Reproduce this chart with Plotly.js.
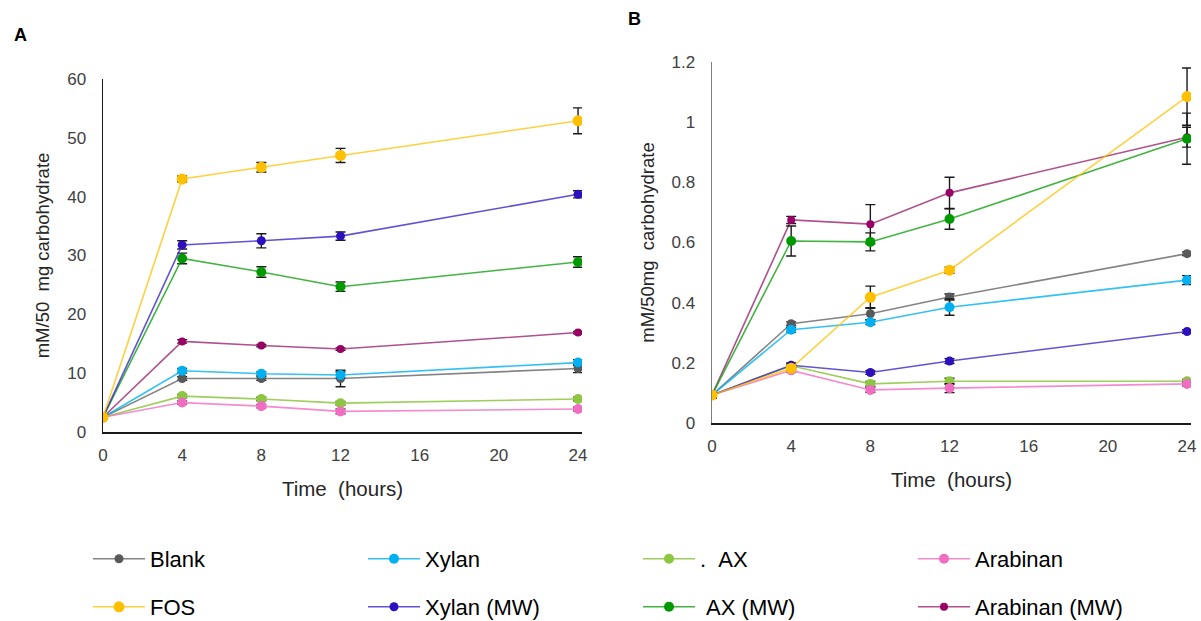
<!DOCTYPE html>
<html>
<head>
<meta charset="utf-8">
<script src="https://cdn.plot.ly/plotly-3.0.1.min.js"></script>
<style>
  html, body { margin: 0; padding: 0; background: #fff; }
  #chart { width: 1201px; height: 621px; }
</style>
</head>
<body>
<div id="chart"></div>
<script>
// Sampling times (hours)
const hours = [0, 4, 8, 12, 24];
const tickHours = [0, 4, 8, 12, 16, 20, 24];

// Series names as shown in the legend
const seriesNames = ['Blank', 'Xylan', '.\u00a0\u00a0AX', 'Arabinan', 'FOS', 'Xylan (MW)', '\u00a0AX (MW)', 'Arabinan (MW)'];

// Panel A values (mM/50 mg carbohydrate) and standard errors
const blankA      = [2.5, 9.1, 9.1, 9.1, 10.8];
const blankAErr   = [0.3, 0.3, 0.3, 1.4, 0.7];
const xylanA      = [2.5, 10.4, 9.9, 9.7, 11.8];
const xylanAErr   = [0.3, 0.4, 0.3, 0.5, 0.5];
const axA         = [2.5, 6.1, 5.6, 4.9, 5.6];
const axAErr      = [0.3, 0.3, 0.3, 0.3, 0.3];
const arabinanA   = [2.5, 5.0, 4.4, 3.5, 3.9];
const arabinanAErr= [0.3, 0.3, 0.3, 0.4, 0.3];
const fosA        = [2.5, 43.0, 45.0, 47.0, 52.9];
const fosAErr     = [0.3, 0.5, 0.8, 1.2, 2.2];
const xylanMwA    = [2.5, 31.8, 32.5, 33.3, 40.4];
const xylanMwAErr = [0.3, 0.7, 1.2, 0.7, 0.6];
const axMwA       = [2.5, 29.5, 27.2, 24.7, 28.9];
const axMwAErr    = [0.3, 0.9, 0.9, 0.8, 0.9];
const arabMwA     = [2.5, 15.4, 14.7, 14.1, 16.9];
const arabMwAErr  = [0.3, 0.3, 0.2, 0.2, 0.2];

// Panel B values (mM/50mg carbohydrate) and standard errors
const blankB      = [0.093, 0.330, 0.363, 0.419, 0.563];
const blankBErr   = [0.008, 0.006, 0.02, 0.01, 0.006];
const xylanB      = [0.093, 0.310, 0.335, 0.385, 0.475];
const xylanBErr   = [0.008, 0.008, 0.008, 0.027, 0.015];
const axB         = [0.093, 0.190, 0.130, 0.139, 0.139];
const axBErr      = [0.008, 0.006, 0.008, 0.01, 0.006];
const arabinanB   = [0.093, 0.175, 0.110, 0.116, 0.130];
const arabinanBErr= [0.008, 0.006, 0.008, 0.015, 0.006];
const fosB        = [0.093, 0.182, 0.418, 0.508, 1.085];
const fosBErr     = [0.008, 0.006, 0.037, 0.01, 0.095];
const xylanMwB    = [0.093, 0.192, 0.168, 0.206, 0.304];
const xylanMwBErr = [0.008, 0.008, 0.006, 0.008, 0.006];
const axMwB       = [0.093, 0.605, 0.602, 0.678, 0.945];
const axMwBErr    = [0.008, 0.05, 0.03, 0.034, 0.085];
const arabMwB     = [0.093, 0.675, 0.661, 0.765, 0.950];
const arabMwBErr  = [0.008, 0.012, 0.065, 0.052, 0.033];

// Styling per series: marker colour, line colour, marker size
const styles = [
  { m: '#595959', l: 'rgba(110,110,110,0.85)', s: 9 },
  { m: '#00b0f0', l: 'rgba(0,176,240,0.8)',    s: 10 },
  { m: '#8dc63f', l: 'rgba(141,198,63,0.85)',  s: 10 },
  { m: '#f06ec2', l: 'rgba(240,110,194,0.8)',  s: 10 },
  { m: '#ffc000', l: 'rgba(255,192,0,0.75)',   s: 11 },
  { m: '#2e0fbf', l: 'rgba(60,40,200,0.8)',    s: 9 },
  { m: '#009a00', l: 'rgba(20,160,20,0.8)',    s: 10 },
  { m: '#990066', l: 'rgba(160,50,120,0.85)',  s: 8 }
];

const dataA = [blankA, xylanA, axA, arabinanA, fosA, xylanMwA, axMwA, arabMwA];
const errA  = [blankAErr, xylanAErr, axAErr, arabinanAErr, fosAErr, xylanMwAErr, axMwAErr, arabMwAErr];
const dataB = [blankB, xylanB, axB, arabinanB, fosB, xylanMwB, axMwB, arabMwB];
const errB  = [blankBErr, xylanBErr, axBErr, arabinanBErr, fosBErr, xylanMwBErr, axMwBErr, arabMwBErr];

// Draw order so that the upper series sit on top
const order = [0, 1, 2, 3, 7, 6, 5, 4];

const traces = [];
function addTraces(vals, errs, xa, ya, showLegend) {
  order.forEach(i => {
    traces.push({
      type: 'scatter', mode: 'lines+markers',
      x: hours, y: vals[i],
      name: seriesNames[i],
      xaxis: xa, yaxis: ya,
      showlegend: showLegend,
      legend: i < 4 ? 'legend' : 'legend2',
      legendrank: i,
      line: { color: styles[i].l, width: 1.6 },
      marker: { color: styles[i].m, size: styles[i].s },
      error_y: { type: 'data', array: errs[i], visible: true, color: '#1a1a1a', thickness: 1.4, width: 5 }
    });
  });
}
addTraces(dataA, errA, 'x', 'y', true);
addTraces(dataB, errB, 'x2', 'y2', false);

const FONT = 'Liberation Sans, Arial, sans-serif';
const tickFont = { family: FONT, size: 17, color: '#404040' };

function xAxis(domain, anchor) {
  return {
    domain: domain, anchor: anchor, range: [0, 24.2],
    tickvals: tickHours, ticktext: tickHours.map(String),
    showgrid: false, zeroline: false, showline: true, linecolor: '#1a1a1a', linewidth: 1.5,
    ticks: '', tickfont: tickFont, ticklabelstandoff: 7,
    title: { text: 'Time\u00a0\u00a0(hours)', font: { family: FONT, size: 20.5, color: '#262626' }, standoff: 17 }
  };
}
function yAxis(domain, anchor, range, dtick, title, lineColor) {
  return {
    domain: domain, anchor: anchor, range: range, dtick: dtick, tick0: 0,
    showgrid: false, zeroline: false, showline: true, linecolor: lineColor, linewidth: 1.5,
    ticks: '', tickfont: tickFont, ticklabelstandoff: 12,
    title: { text: title, font: { family: FONT, size: 18.5, color: '#262626' }, standoff: 12 }
  };
}

const legendBase = {
  orientation: 'h', xanchor: 'left', yanchor: 'middle',
  font: { family: FONT, size: 22, color: '#000' },
  itemwidth: 52, entrywidth: 208, entrywidthmode: 'pixels', traceorder: 'normal',
  bgcolor: 'rgba(0,0,0,0)', itemclick: false
};

const layout = {
  width: 1201, height: 621,
  margin: { l: 0, r: 0, t: 0, b: 0, autoexpand: false },
  paper_bgcolor: '#fff', plot_bgcolor: '#fff',
  showlegend: true,
  xaxis: xAxis([103 / 1201, 582 / 1201], 'y'),
  yaxis: yAxis([(621 - 432) / 621, (621 - 79) / 621], 'x', [0, 60], 10, 'mM/50\u00a0\u00a0mg carbohydrate', '#1a1a1a'),
  xaxis2: xAxis([712 / 1201, 1191 / 1201], 'y2'),
  yaxis2: yAxis([(621 - 423) / 621, (621 - 62) / 621], 'x2', [0, 1.2], 0.2, 'mM/50mg\u00a0\u00a0carbohydrate', '#7f7f7f'),
  legend: Object.assign({}, legendBase, { x: 88 / 1201, y: (621 - 559) / 621 }),
  legend2: Object.assign({}, legendBase, { x: 88 / 1201, y: (621 - 607) / 621 }),
  annotations: [
    { text: '<b>A</b>', xref: 'paper', yref: 'paper', x: 12 / 1201, y: (621 - 35) / 621,
      xanchor: 'left', yanchor: 'middle', showarrow: false,
      font: { family: FONT, size: 18, color: '#000' } },
    { text: '<b>B</b>', xref: 'paper', yref: 'paper', x: 626 / 1201, y: (621 - 19) / 621,
      xanchor: 'left', yanchor: 'middle', showarrow: false,
      font: { family: FONT, size: 18, color: '#000' } }
  ]
};

Plotly.newPlot('chart', traces, layout, { displayModeBar: false, staticPlot: true });
</script>
</body>
</html>
